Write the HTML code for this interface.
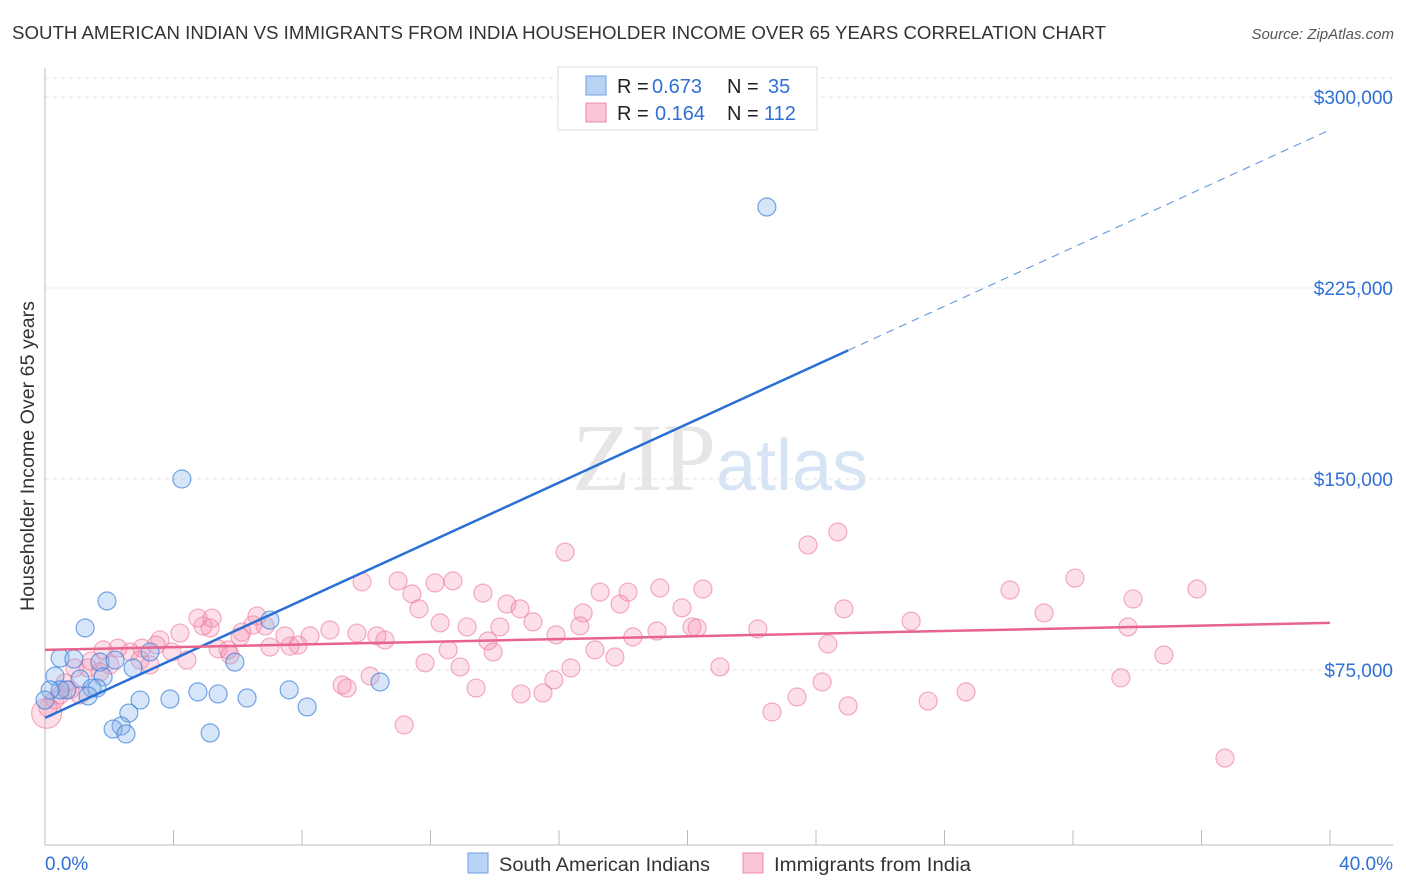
<!DOCTYPE html>
<html><head><meta charset="utf-8"><style>
body{margin:0;background:#fff;font-family:"Liberation Sans",sans-serif;}
svg{display:block}
</style></head><body>
<svg id="chart" width="1406" height="892" viewBox="0 0 1406 892" xmlns="http://www.w3.org/2000/svg" font-family="Liberation Sans, sans-serif">
<text x="12" y="39" font-size="18.5" fill="#333" textLength="1094" lengthAdjust="spacingAndGlyphs">SOUTH AMERICAN INDIAN VS IMMIGRANTS FROM INDIA HOUSEHOLDER INCOME OVER 65 YEARS CORRELATION CHART</text>
<text x="1394" y="39" font-size="15" fill="#555" text-anchor="end" font-style="italic">Source: ZipAtlas.com</text>
<text x="720" y="490" font-size="96" text-anchor="middle" fill="#e6e6e6" font-family="Liberation Serif, serif">ZIP<tspan fill="#d6e4f5" font-family="Liberation Sans, sans-serif" font-size="72">atlas</tspan></text>
<g id="grid"></g>
<g id="axes"></g>
<g id="marks"></g>
<text transform="translate(34,456) rotate(-90)" font-size="19" fill="#333" text-anchor="middle" textLength="310" lengthAdjust="spacingAndGlyphs">Householder Income Over 65 years</text>
<g>
<rect x="558" y="67" width="259" height="63" fill="#fff" stroke="#ddd"/>
<rect x="586" y="76" width="20" height="19" fill="#b9d3f5" stroke="#6f9fe0"/>
<rect x="586" y="103" width="20" height="19" fill="#f9c6d5" stroke="#ec8aa8"/>
<text x="617" y="93" font-size="20" fill="#222">R =</text>
<text x="652" y="93" font-size="20" fill="#2f6fd6">0.673</text>
<text x="727" y="93" font-size="20" fill="#222">N =</text>
<text x="768" y="93" font-size="20" fill="#2f6fd6">35</text>
<text x="617" y="120" font-size="20" fill="#222">R =</text>
<text x="655" y="120" font-size="20" fill="#2f6fd6">0.164</text>
<text x="727" y="120" font-size="20" fill="#222">N =</text>
<text x="764" y="120" font-size="20" fill="#2f6fd6">112</text>
</g>
<g>
<rect x="468" y="853" width="20" height="20" fill="#b9d3f5" stroke="#6f9fe0"/>
<text x="499" y="871" font-size="19" fill="#333" textLength="211" lengthAdjust="spacingAndGlyphs">South American Indians</text>
<rect x="743" y="853" width="20" height="20" fill="#f9c6d5" stroke="#ec8aa8"/>
<text x="774" y="871" font-size="19" fill="#333" textLength="197" lengthAdjust="spacingAndGlyphs">Immigrants from India</text>
</g>
</svg>
<script>
const yTicks=[75000,150000,225000,300000];
const yTickLabels=["$75,000","$150,000","$225,000","$300,000"];
const xTickLabels=["0.0%","40.0%"];
const blueX=[4.26,22.47,1.93,1.25,0.47,0.90,3.27,1.71,2.18,2.74,5.91,7.00,0.31,1.09,1.81,1.46,1.62,0.68,1.34,0.47,7.60,4.76,5.39,2.96,3.89,6.29,8.16,2.61,2.37,2.12,2.52,5.14,10.43,0.16,0.0];
const blueY=[150.0,256.8,102.1,91.5,79.7,79.3,82.1,78.1,78.9,75.8,78.1,94.6,72.6,71.5,72.3,67.9,67.9,67.2,64.8,67.2,67.2,66.4,65.6,63.2,63.6,64.0,60.5,58.1,53.0,51.8,49.9,50.3,70.3,67.2,63.2];
const pinkX=[24.68,23.75,16.19,32.06,30.04,35.86,9.87,10.99,12.14,12.70,13.63,11.42,14.38,14.79,17.28,18.15,19.14,20.48,16.75,17.90,19.83,33.87,31.10,24.87,26.96,33.71,11.64,12.30,13.14,14.16,15.19,16.65,15.91,18.30,19.05,20.14,20.30,22.19,24.37,13.79,13.95,12.55,10.58,10.33,9.71,8.87,8.25,7.88,7.63,7.47,7.00,6.85,6.60,6.47,6.13,6.07,5.70,5.39,5.14,4.92,4.76,5.20,4.20,3.58,3.46,3.95,3.02,2.65,2.27,1.81,1.43,2.02,1.34,0.93,2.96,4.42,3.27,5.76,17.12,17.74,12.92,11.83,16.37,10.12,21.01,34.83,9.25,9.40,13.42,14.82,15.50,15.84,23.41,24.19,22.63,25.00,27.49,28.67,33.49,11.18,36.73,0.31,0.09,0.47,0.78,1.09,0.62,1.71,0.05];
const pinkY=[129.2,124.1,121.3,111.1,106.4,106.8,109.6,110.0,109.2,110.0,105.2,104.9,100.9,99.0,105.6,105.6,107.2,106.8,97.4,100.9,99.4,102.9,97.4,99.0,94.2,91.9,99.0,93.5,91.9,91.9,93.9,92.3,88.8,88.0,90.3,91.9,91.5,91.1,85.2,86.4,82.1,82.9,86.8,88.4,89.5,90.7,88.4,84.8,84.4,88.4,84.0,92.3,96.2,92.7,89.9,88.0,82.9,83.3,91.5,92.3,95.4,95.4,89.5,86.8,84.8,82.1,83.6,82.1,83.6,82.9,78.5,77.0,75.8,75.8,78.9,78.9,77.0,80.9,82.9,80.1,76.2,77.8,75.8,72.6,76.2,80.9,69.1,67.9,67.9,65.6,66.0,71.1,64.4,70.3,58.5,60.9,62.8,66.4,71.9,53.4,40.4,63.2,60.1,65.2,67.2,65.2,69.9,74.2,58.0];
const blueTrend=[56.2,287.1];
const pinkTrend=[82.9,93.5];
const blueSolidEnd=25;

const NS="http://www.w3.org/2000/svg";
const xS=v=>45+v*(1285/40);
const yS=v=>861-v*(191/75);
function mk(tag,attrs,parent){const e=document.createElementNS(NS,tag);for(const k in attrs)e.setAttribute(k,attrs[k]);parent.appendChild(e);return e;}
const grid=document.getElementById('grid'),axes=document.getElementById('axes'),marks=document.getElementById('marks');
let gl=mk('line',{x1:45,x2:1393,y1:78,y2:78,stroke:'#e3e3e3','stroke-dasharray':'4,4'},grid);


yTicks.forEach((t,i)=>{
 const y=yS(t/1000);
 const l=mk('line',{x1:45,x2:1393,y1:y,y2:y,stroke:'#e3e3e3','stroke-dasharray':'4,4'},grid);
 
 
 const tx=mk('text',{x:1393,y:y+7,'font-size':19,fill:'#2f6fd6','text-anchor':'end'},axes);
 tx.textContent=yTickLabels[i];
 
 
});
let ax=mk('line',{x1:45,x2:45,y1:68,y2:845,stroke:'#bbb'},axes);


ax=mk('line',{x1:45,x2:1393,y1:845,y2:845,stroke:'#bbb'},axes);


for(let i=0;i<=10;i++){const x=xS(i*4);
 const t=mk('line',{x1:x,x2:x,y1:830,y2:845,stroke:'#bbb'},axes);
 
 }
let xl=mk('text',{x:45,y:870,'font-size':19,fill:'#2f6fd6'},axes);xl.textContent=xTickLabels[0];


xl=mk('text',{x:1393,y:870,'font-size':19,fill:'#2f6fd6','text-anchor':'end'},axes);xl.textContent=xTickLabels[1];



pinkX.forEach((x,i)=>{
 const c=mk('circle',{cx:xS(x),cy:yS(pinkY[i]),r:i===pinkX.length-1?15:9,fill:'rgba(244,150,180,0.3)',stroke:'rgba(236,120,155,0.6)','stroke-width':1.2},marks);
 
 
});
blueX.forEach((x,i)=>{
 const c=mk('circle',{cx:xS(x),cy:yS(blueY[i]),r:9,fill:'rgba(140,180,235,0.35)',stroke:'rgba(60,130,220,0.7)','stroke-width':1.2},marks);
 
 
});
const bAt=x=>blueTrend[0]+(blueTrend[1]-blueTrend[0])*x/40;
let tl=mk('line',{x1:xS(0),y1:yS(bAt(0)),x2:xS(blueSolidEnd),y2:yS(bAt(blueSolidEnd)),stroke:'#2a6fd6','stroke-width':2.5},marks);


tl=mk('line',{x1:xS(blueSolidEnd),y1:yS(bAt(blueSolidEnd)),x2:xS(40),y2:yS(bAt(40)),stroke:'#6f9fe0','stroke-width':1.2,'stroke-dasharray':'8,6'},marks);


tl=mk('line',{x1:xS(0),y1:yS(pinkTrend[0]),x2:xS(40),y2:yS(pinkTrend[1]),stroke:'#e8648e','stroke-width':2.5},marks);


</script>
</body></html>
